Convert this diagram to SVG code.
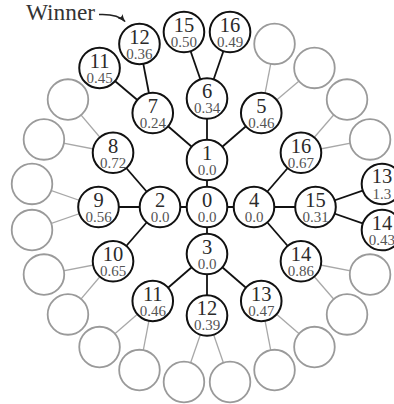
<svg xmlns="http://www.w3.org/2000/svg" width="394" height="404" viewBox="0 0 394 404">
<style>
.n circle{fill:#fff;stroke:#111;stroke-width:2}
.g circle{fill:#fff;stroke:#9a9a9a;stroke-width:1.8}
.t{font-family:"Liberation Serif","DejaVu Serif",serif;font-size:20.5px;fill:#2a2a2a;text-anchor:middle}
.v{font-family:"Liberation Serif","DejaVu Serif",serif;font-size:15px;fill:#555;text-anchor:middle}
.e line{stroke:#111;stroke-width:1.8}
.ge line{stroke:#a8a8a8;stroke-width:1.3}
.w{font-family:"Liberation Serif","DejaVu Serif",serif;font-size:23px;fill:#333}
</style>
<defs>
<marker id="ah" viewBox="0 0 10 10" refX="9" refY="5" markerWidth="8" markerHeight="8" markerUnits="userSpaceOnUse" orient="auto">
<path d="M0,1 Q5,4 10,5 Q5,6 0,9 Q3,5 0,1Z" fill="#222"/>
</marker>
</defs>
<rect width="394" height="404" fill="#fff"/>
<g id="connectors">
<g class="ge">
<line x1="261.25" y1="113.04" x2="274.54" y2="43.94"/>
<line x1="261.25" y1="113.04" x2="314.45" y2="67.97"/>
<line x1="300.96" y1="152.75" x2="347.03" y2="99.55"/>
<line x1="300.96" y1="152.75" x2="370.06" y2="139.46"/>
<line x1="300.96" y1="261.25" x2="370.06" y2="274.54"/>
<line x1="300.96" y1="261.25" x2="347.03" y2="314.45"/>
<line x1="261.25" y1="300.96" x2="314.45" y2="347.03"/>
<line x1="261.25" y1="300.96" x2="274.54" y2="370.06"/>
<line x1="207" y1="315.5" x2="230.04" y2="381.99"/>
<line x1="207" y1="315.5" x2="183.96" y2="381.99"/>
<line x1="152.75" y1="300.96" x2="139.46" y2="370.06"/>
<line x1="152.75" y1="300.96" x2="99.55" y2="347.03"/>
<line x1="113.04" y1="261.25" x2="67.97" y2="314.45"/>
<line x1="113.04" y1="261.25" x2="43.94" y2="274.54"/>
<line x1="98.5" y1="207" x2="32.01" y2="230.04"/>
<line x1="98.5" y1="207" x2="32.01" y2="183.96"/>
<line x1="113.04" y1="152.75" x2="43.94" y2="139.46"/>
<line x1="113.04" y1="152.75" x2="67.97" y2="99.55"/>
</g>
<g class="e">
<line x1="207" y1="207" x2="207" y2="160"/>
<line x1="207" y1="207" x2="160" y2="207"/>
<line x1="207" y1="207" x2="207" y2="254"/>
<line x1="207" y1="207" x2="254" y2="207"/>
<line x1="207" y1="160" x2="261.25" y2="113.04"/>
<line x1="207" y1="160" x2="207" y2="98.5"/>
<line x1="207" y1="160" x2="152.75" y2="113.04"/>
<line x1="160" y1="207" x2="113.04" y2="152.75"/>
<line x1="160" y1="207" x2="98.5" y2="207"/>
<line x1="160" y1="207" x2="113.04" y2="261.25"/>
<line x1="207" y1="254" x2="152.75" y2="300.96"/>
<line x1="207" y1="254" x2="207" y2="315.5"/>
<line x1="207" y1="254" x2="261.25" y2="300.96"/>
<line x1="254" y1="207" x2="300.96" y2="152.75"/>
<line x1="254" y1="207" x2="315.5" y2="207"/>
<line x1="254" y1="207" x2="300.96" y2="261.25"/>
<line x1="207" y1="98.5" x2="183.96" y2="32.01"/>
<line x1="207" y1="98.5" x2="230.04" y2="32.01"/>
<line x1="152.75" y1="113.04" x2="99.55" y2="67.97"/>
<line x1="152.75" y1="113.04" x2="139.46" y2="43.94"/>
<line x1="315.5" y1="207" x2="381.99" y2="183.96"/>
<line x1="315.5" y1="207" x2="381.99" y2="230.04"/>
</g>
</g>
<g id="grey-nodes" class="g">
<circle cx="274.54" cy="43.94" r="20.3"/>
<circle cx="314.45" cy="67.97" r="20.3"/>
<circle cx="347.03" cy="99.55" r="20.3"/>
<circle cx="370.06" cy="139.46" r="20.3"/>
<circle cx="370.06" cy="274.54" r="20.3"/>
<circle cx="347.03" cy="314.45" r="20.3"/>
<circle cx="314.45" cy="347.03" r="20.3"/>
<circle cx="274.54" cy="370.06" r="20.3"/>
<circle cx="230.04" cy="381.99" r="20.3"/>
<circle cx="183.96" cy="381.99" r="20.3"/>
<circle cx="139.46" cy="370.06" r="20.3"/>
<circle cx="99.55" cy="347.03" r="20.3"/>
<circle cx="67.97" cy="314.45" r="20.3"/>
<circle cx="43.94" cy="274.54" r="20.3"/>
<circle cx="32.01" cy="230.04" r="20.3"/>
<circle cx="32.01" cy="183.96" r="20.3"/>
<circle cx="43.94" cy="139.46" r="20.3"/>
<circle cx="67.97" cy="99.55" r="20.3"/>
</g>
<g id="n0" class="n"><circle cx="207" cy="207" r="20.3"/><text class="t" x="207" y="206.5">0</text><text class="v" x="207" y="221.5">0.0</text></g>
<g id="n1" class="n"><circle cx="207" cy="160" r="20.3"/><text class="t" x="207" y="159.5">1</text><text class="v" x="207" y="174.5">0.0</text></g>
<g id="n2" class="n"><circle cx="160" cy="207" r="20.3"/><text class="t" x="160" y="206.5">2</text><text class="v" x="160" y="221.5">0.0</text></g>
<g id="n3" class="n"><circle cx="207" cy="254" r="20.3"/><text class="t" x="207" y="253.5">3</text><text class="v" x="207" y="268.5">0.0</text></g>
<g id="n4" class="n"><circle cx="254" cy="207" r="20.3"/><text class="t" x="254" y="206.5">4</text><text class="v" x="254" y="221.5">0.0</text></g>
<g id="n5" class="n"><circle cx="261.25" cy="113.04" r="20.3"/><text class="t" x="261.25" y="112.8">5</text><text class="v" x="261.25" y="127.8">0.46</text></g>
<g id="n6" class="n"><circle cx="207" cy="98.5" r="20.3"/><text class="t" x="207" y="98.3">6</text><text class="v" x="207" y="113.3">0.34</text></g>
<g id="n7" class="n"><circle cx="152.75" cy="113.04" r="20.3"/><text class="t" x="152.75" y="112.8">7</text><text class="v" x="152.75" y="127.8">0.24</text></g>
<g id="n8" class="n"><circle cx="113.04" cy="152.75" r="20.3"/><text class="t" x="113.04" y="152.5">8</text><text class="v" x="113.04" y="167.5">0.72</text></g>
<g id="n9" class="n"><circle cx="98.5" cy="207" r="20.3"/><text class="t" x="98.5" y="206.8">9</text><text class="v" x="98.5" y="221.8">0.56</text></g>
<g id="n10" class="n"><circle cx="113.04" cy="261.25" r="20.3"/><text class="t" x="113.04" y="261">10</text><text class="v" x="113.04" y="276">0.65</text></g>
<g id="n11" class="n"><circle cx="152.75" cy="300.96" r="20.3"/><text class="t" x="152.75" y="300.7">11</text><text class="v" x="152.75" y="315.7">0.46</text></g>
<g id="n12" class="n"><circle cx="207" cy="315.5" r="20.3"/><text class="t" x="207" y="315.3">12</text><text class="v" x="207" y="330.3">0.39</text></g>
<g id="n13" class="n"><circle cx="261.25" cy="300.96" r="20.3"/><text class="t" x="261.25" y="300.7">13</text><text class="v" x="261.25" y="315.7">0.47</text></g>
<g id="n14" class="n"><circle cx="300.96" cy="261.25" r="20.3"/><text class="t" x="300.96" y="261">14</text><text class="v" x="300.96" y="276">0.86</text></g>
<g id="n15" class="n"><circle cx="315.5" cy="207" r="20.3"/><text class="t" x="315.5" y="206.8">15</text><text class="v" x="315.5" y="221.8">0.31</text></g>
<g id="n16" class="n"><circle cx="300.96" cy="152.75" r="20.3"/><text class="t" x="300.96" y="152.5">16</text><text class="v" x="300.96" y="167.5">0.67</text></g>
<g id="n6a" class="n"><circle cx="183.96" cy="32.01" r="20.3"/><text class="t" x="183.96" y="31.8">15</text><text class="v" x="183.96" y="46.8">0.50</text></g>
<g id="n6b" class="n"><circle cx="230.04" cy="32.01" r="20.3"/><text class="t" x="230.04" y="31.8">16</text><text class="v" x="230.04" y="46.8">0.49</text></g>
<g id="n7a" class="n"><circle cx="99.55" cy="67.97" r="20.3"/><text class="t" x="99.55" y="67.8">11</text><text class="v" x="99.55" y="82.8">0.45</text></g>
<g id="n7b" class="n"><circle cx="139.46" cy="43.94" r="20.3"/><text class="t" x="139.46" y="43.7">12</text><text class="v" x="139.46" y="58.7">0.36</text></g>
<g id="n15a" class="n"><circle cx="381.99" cy="183.96" r="20.3"/><text class="t" x="381.99" y="183.3">13</text><text class="v" x="381.99" y="199.3">1.3</text></g>
<g id="n15b" class="n"><circle cx="381.99" cy="230.04" r="20.3"/><text class="t" x="381.99" y="229.8">14</text><text class="v" x="381.99" y="244.8">0.43</text></g>
<g id="winner">
<text class="w" x="26" y="20" textLength="69" lengthAdjust="spacingAndGlyphs">Winner</text>
<path d="M99,14.5 C110,14 119,15 125,21.5" fill="none" stroke="#222" stroke-width="1.5" marker-end="url(#ah)"/>
</g>
</svg>
